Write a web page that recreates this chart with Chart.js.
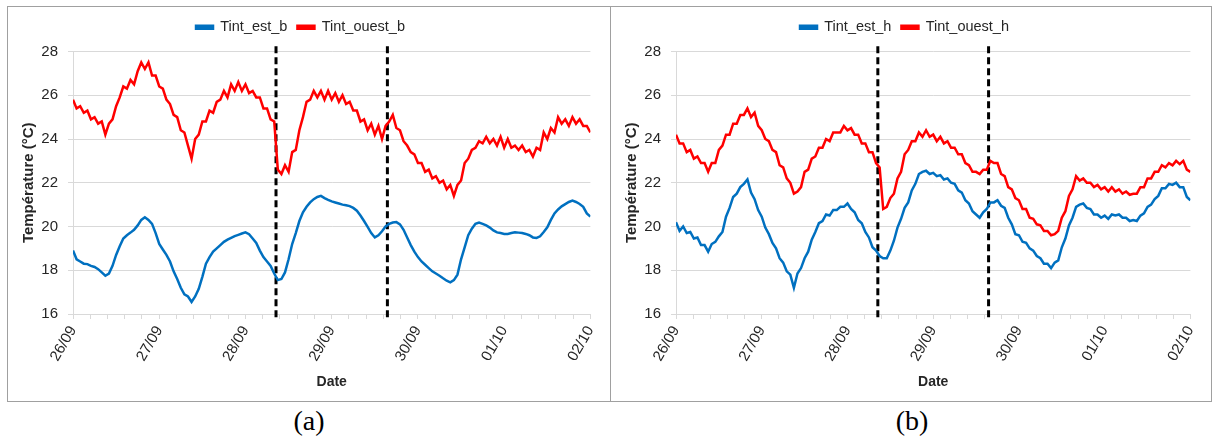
<!DOCTYPE html>
<html>
<head>
<meta charset="utf-8">
<script src="https://cdn.jsdelivr.net/npm/chart.js@4.4.1/dist/chart.umd.min.js"></script>
<style>
  body { margin: 0; background: #fff; width: 1212px; height: 439px; position: relative; overflow: hidden; }
  .frame { position: absolute; left: 7px; top: 6px; width: 1203px; height: 394px; border: 1px solid #a0a0a0; }
  .divider { position: absolute; left: 610px; top: 6px; width: 1px; height: 396px; background: #a0a0a0; }
  .box { position: absolute; top: 7px; height: 394px; }
  .caption { position: absolute; top: 403px; width: 100px; text-align: center; font-family: "Liberation Serif", serif; font-size: 28px; line-height: 36px; color: #000; }
</style>
</head>
<body>
<div class="frame"></div>
<div class="divider"></div>
<div class="box" style="left:8px;width:602px"><canvas id="chartA"></canvas></div>
<div class="box" style="left:611px;width:599px"><canvas id="chartB"></canvas></div>
<div class="caption" style="left:259px">(a)</div>
<div class="caption" style="left:862px">(b)</div>
<script>
// x axis: hours since 26/09 00:00, one reading per hour
const hours = Array.from({ length: 145 }, (_, i) => i);
const dayLabels = ['26/09', '27/09', '28/09', '29/09', '30/09', '01/10', '02/10'];
const tickHours = [0, 4.8, 9.6, 14.4, 19.2, 24, 28.8, 33.6, 38.4, 43.2, 48, 52.8, 57.6, 62.4, 67.2, 72,
  76.8, 81.6, 86.4, 91.2, 96, 100.8, 105.6, 110.4, 115.2, 120, 124.8, 129.6, 134.4, 139.2, 144];
const switchHours = [56.5, 87.5];

// (a) bas
const estB = [18.9, 18.5, 18.4, 18.3, 18.28, 18.2, 18.15, 18.05, 17.9, 17.75, 17.85, 18.2, 18.7, 19.1, 19.45, 19.6,
  19.72, 19.85, 20.05, 20.3, 20.42, 20.3, 20.12, 19.7, 19.2, 18.95, 18.7, 18.4, 17.95, 17.6, 17.2, 16.9,
  16.8, 16.55, 16.8, 17.15, 17.7, 18.3, 18.6, 18.85, 19.0, 19.15, 19.3, 19.4, 19.48, 19.56, 19.62, 19.68,
  19.73, 19.65, 19.45, 19.25, 18.9, 18.6, 18.4, 18.2, 17.85, 17.55, 17.6, 17.9, 18.5, 19.2, 19.7, 20.25,
  20.65, 20.9, 21.1, 21.25, 21.35, 21.4, 21.3, 21.22, 21.15, 21.1, 21.05, 21.0, 20.97, 20.93, 20.85, 20.72,
  20.5, 20.25, 19.98, 19.7, 19.5, 19.6, 19.78, 20.0, 20.12, 20.18, 20.2, 20.1, 19.85, 19.5, 19.15, 18.85,
  18.6, 18.4, 18.25, 18.1, 17.95, 17.85, 17.75, 17.63, 17.52, 17.45, 17.55, 17.8, 18.5, 19.05, 19.6, 19.9,
  20.12, 20.18, 20.12, 20.05, 19.95, 19.82, 19.73, 19.7, 19.66, 19.66, 19.7, 19.74, 19.72, 19.7, 19.66, 19.6,
  19.5, 19.48, 19.55, 19.75, 19.96, 20.3, 20.6, 20.78, 20.92, 21.02, 21.12, 21.18, 21.12, 21.03, 20.9, 20.6, 20.45];
const ouestB = [25.8, 25.4, 25.5, 25.2, 25.3, 24.9, 25.0, 24.7, 24.8, 24.2, 24.7, 24.9, 25.5, 25.9, 26.4, 26.3,
  26.7, 26.5, 27.1, 27.5, 27.2, 27.5, 26.9, 26.9, 26.4, 26.3, 25.8, 25.6, 25.1, 25.0, 24.4, 24.3,
  23.7, 23.1, 24.0, 24.2, 24.8, 24.8, 25.3, 25.2, 25.7, 25.8, 26.2, 25.9, 26.5, 26.2, 26.6, 26.2,
  26.5, 26.1, 26.2, 25.9, 25.9, 25.4, 25.4, 24.9, 24.8, 22.6, 22.4, 22.8, 22.5, 23.4, 23.5, 24.4,
  25.0, 25.7, 25.8, 26.2, 25.9, 26.2, 25.8, 26.2, 25.8, 26.1, 25.7, 26.0, 25.6, 25.7, 25.3, 25.3,
  24.8, 24.9, 24.4, 24.7, 24.2, 24.6, 24.0, 24.6, 24.8, 25.1, 24.5, 24.4, 23.9, 23.7, 23.4, 23.3,
  22.9, 22.9, 22.5, 22.6, 22.2, 22.3, 22.0, 22.1, 21.7, 21.9, 21.4, 21.9, 22.1, 22.9, 23.1, 23.5,
  23.6, 23.9, 23.8, 24.1, 23.8, 24.0, 23.7, 24.1, 23.6, 24.0, 23.6, 23.7, 23.5, 23.7, 23.4, 23.5,
  23.2, 23.6, 23.5, 24.3, 24.0, 24.5, 24.3, 25.0, 24.7, 24.9, 24.6, 25.0, 24.7, 24.9, 24.6, 24.6, 24.3];

// (b) haut
const estH = [20.2, 19.8, 20.0, 19.7, 19.75, 19.45, 19.5, 19.15, 19.15, 18.85, 19.2, 19.3, 19.55, 19.75, 20.45, 20.85,
  21.35, 21.5, 21.8, 21.95, 22.15, 21.55, 21.25, 20.75, 20.45, 19.95, 19.65, 19.25, 19.0, 18.55, 18.35, 17.95,
  17.8, 17.2, 17.85, 18.1, 18.55, 18.85, 19.4, 19.75, 20.15, 20.25, 20.55, 20.5, 20.75, 20.75, 20.9, 20.9,
  21.05, 20.8, 20.65, 20.3, 20.15, 19.75, 19.5, 19.05, 18.9, 18.65, 18.55, 18.55, 18.9, 19.35, 19.95, 20.35,
  20.85, 21.1, 21.65, 21.95, 22.4, 22.5, 22.55, 22.4, 22.45, 22.3, 22.35, 22.15, 22.2, 22.0, 21.95, 21.65,
  21.55, 21.2, 21.05, 20.7, 20.55, 20.4, 20.65, 20.8, 21.1, 21.1, 21.2, 20.95, 20.85, 20.4, 20.1, 19.65,
  19.6, 19.3, 19.25, 19.0, 18.9, 18.65, 18.55, 18.3, 18.3, 18.1, 18.35, 18.45, 19.05, 19.45, 20.05, 20.4,
  20.9, 21.0, 21.05, 20.85, 20.8, 20.55, 20.55, 20.4, 20.5, 20.35, 20.55, 20.5, 20.55, 20.4, 20.4, 20.25,
  20.3, 20.25, 20.5, 20.6, 20.9, 21.0, 21.25, 21.4, 21.75, 21.75, 21.95, 21.9, 22.0, 21.8, 21.8, 21.35, 21.2];
const ouestH = [24.2, 23.8, 23.8, 23.4, 23.5, 23.1, 23.2, 22.9, 22.9, 22.5, 22.9, 22.9, 23.5, 23.7, 24.2, 24.2,
  24.7, 24.7, 25.1, 25.1, 25.4, 25.0, 25.2, 24.6, 24.4, 24.0, 23.9, 23.5, 23.4, 22.8, 22.7, 22.2,
  22.0, 21.5, 21.6, 21.8, 22.5, 22.6, 23.1, 23.2, 23.6, 23.6, 24.0, 23.9, 24.3, 24.3, 24.3, 24.6,
  24.4, 24.5, 24.2, 24.2, 23.8, 23.8, 23.4, 23.4, 22.9, 22.7, 20.8, 20.9, 21.3, 21.5, 22.2, 22.5,
  23.3, 23.5, 23.9, 23.9, 24.3, 24.1, 24.4, 24.1, 24.2, 23.9, 24.1, 23.8, 23.9, 23.6, 23.6, 23.3,
  23.3, 22.9, 22.8, 22.5, 22.5, 22.4, 22.6, 22.6, 23.0, 22.9, 22.9, 22.4, 22.3, 21.8, 21.7, 21.3,
  21.2, 20.8, 20.8, 20.4, 20.35, 20.1, 20.05, 19.8, 19.8, 19.6, 19.65, 19.8, 20.4, 20.7, 21.4, 21.7,
  22.3, 22.1, 22.2, 22.0, 22.0, 21.8, 21.9, 21.7, 21.8, 21.6, 21.8, 21.6, 21.7, 21.5, 21.6, 21.45,
  21.5, 21.5, 21.8, 21.8, 22.2, 22.2, 22.5, 22.5, 22.8, 22.7, 22.9, 22.8, 23.0, 22.85, 23.0, 22.6, 22.5];

const font = 'Liberation Sans';
const textColor = '#262626';
const gridColor = '#d9d9d9';

// leaves a gap under the legend, as in the spreadsheet export
const legendGap = {
  id: 'legendGap',
  beforeInit(chart) {
    const fit = chart.legend.fit;
    chart.legend.fit = function () {
      fit.call(this);
      this.height += 7;
    };
  }
};

function switchLine(h) {
  return {
    label: '',
    data: [{ x: h, y: 15.85 }, { x: h, y: 28.4 }],
    borderColor: '#000',
    borderWidth: 3,
    borderDash: [7, 4],
    pointRadius: 0,
    clip: false
  };
}

function makeChart(canvasId, estData, ouestData, suffix, rightPad) {
  const ctx = document.getElementById(canvasId).getContext('2d');
  new Chart(ctx, {
    type: 'line',
    plugins: [legendGap],
    data: {
      labels: hours,
      datasets: [
        { label: 'Tint_est_' + suffix, data: estData, borderColor: '#0070c0', backgroundColor: '#0070c0',
          borderWidth: 2.5, pointRadius: 0, tension: 0 },
        { label: 'Tint_ouest_' + suffix, data: ouestData, borderColor: '#ff0000', backgroundColor: '#ff0000',
          borderWidth: 2.5, pointRadius: 0, tension: 0 },
        switchLine(switchHours[0]),
        switchLine(switchHours[1])
      ]
    },
    options: {
      responsive: true,
      maintainAspectRatio: false,
      animation: false,
      layout: { padding: { left: 0, right: rightPad, top: 3, bottom: 0 } },
      plugins: {
        legend: {
          position: 'top',
          labels: {
            filter: item => item.datasetIndex < 2,
            boxWidth: 17, boxHeight: 3, padding: 10,
            color: textColor, font: { family: font, size: 14.5 }
          }
        },
        tooltip: { enabled: false }
      },
      scales: {
        x: {
          type: 'linear', min: 0, max: 144,
          afterBuildTicks: s => { s.ticks = tickHours.map(v => ({ value: v })); },
          afterFit: s => { s.height = 87; },
          grid: { drawOnChartArea: false, color: gridColor, tickLength: 5 },
          border: { color: gridColor },
          ticks: {
            autoSkip: false, minRotation: 60, maxRotation: 60, padding: 4,
            color: textColor, font: { family: font, size: 15 },
            callback: v => (v % 24 === 0 ? dayLabels[v / 24] : '')
          },
          title: { display: true, text: 'Date', color: textColor, font: { family: font, size: 14, weight: 'bold' },
            padding: { top: 0, bottom: 10 } }
        },
        y: {
          min: 16, max: 28,
          afterFit: s => { s.width = 65; },
          grid: { color: gridColor, tickLength: 5 },
          border: { color: gridColor },
          ticks: { stepSize: 2, padding: 10, color: textColor, font: { family: font, size: 15 } },
          title: { display: true, text: 'Température (°C)', color: textColor, font: { family: font, size: 15, weight: 'bold' },
            padding: { top: 12, bottom: 0 } }
        }
      }
    }
  });
}

makeChart('chartA', estB, ouestB, 'b', 17);
makeChart('chartB', estH, ouestH, 'h', 12);
</script>
</body>
</html>
